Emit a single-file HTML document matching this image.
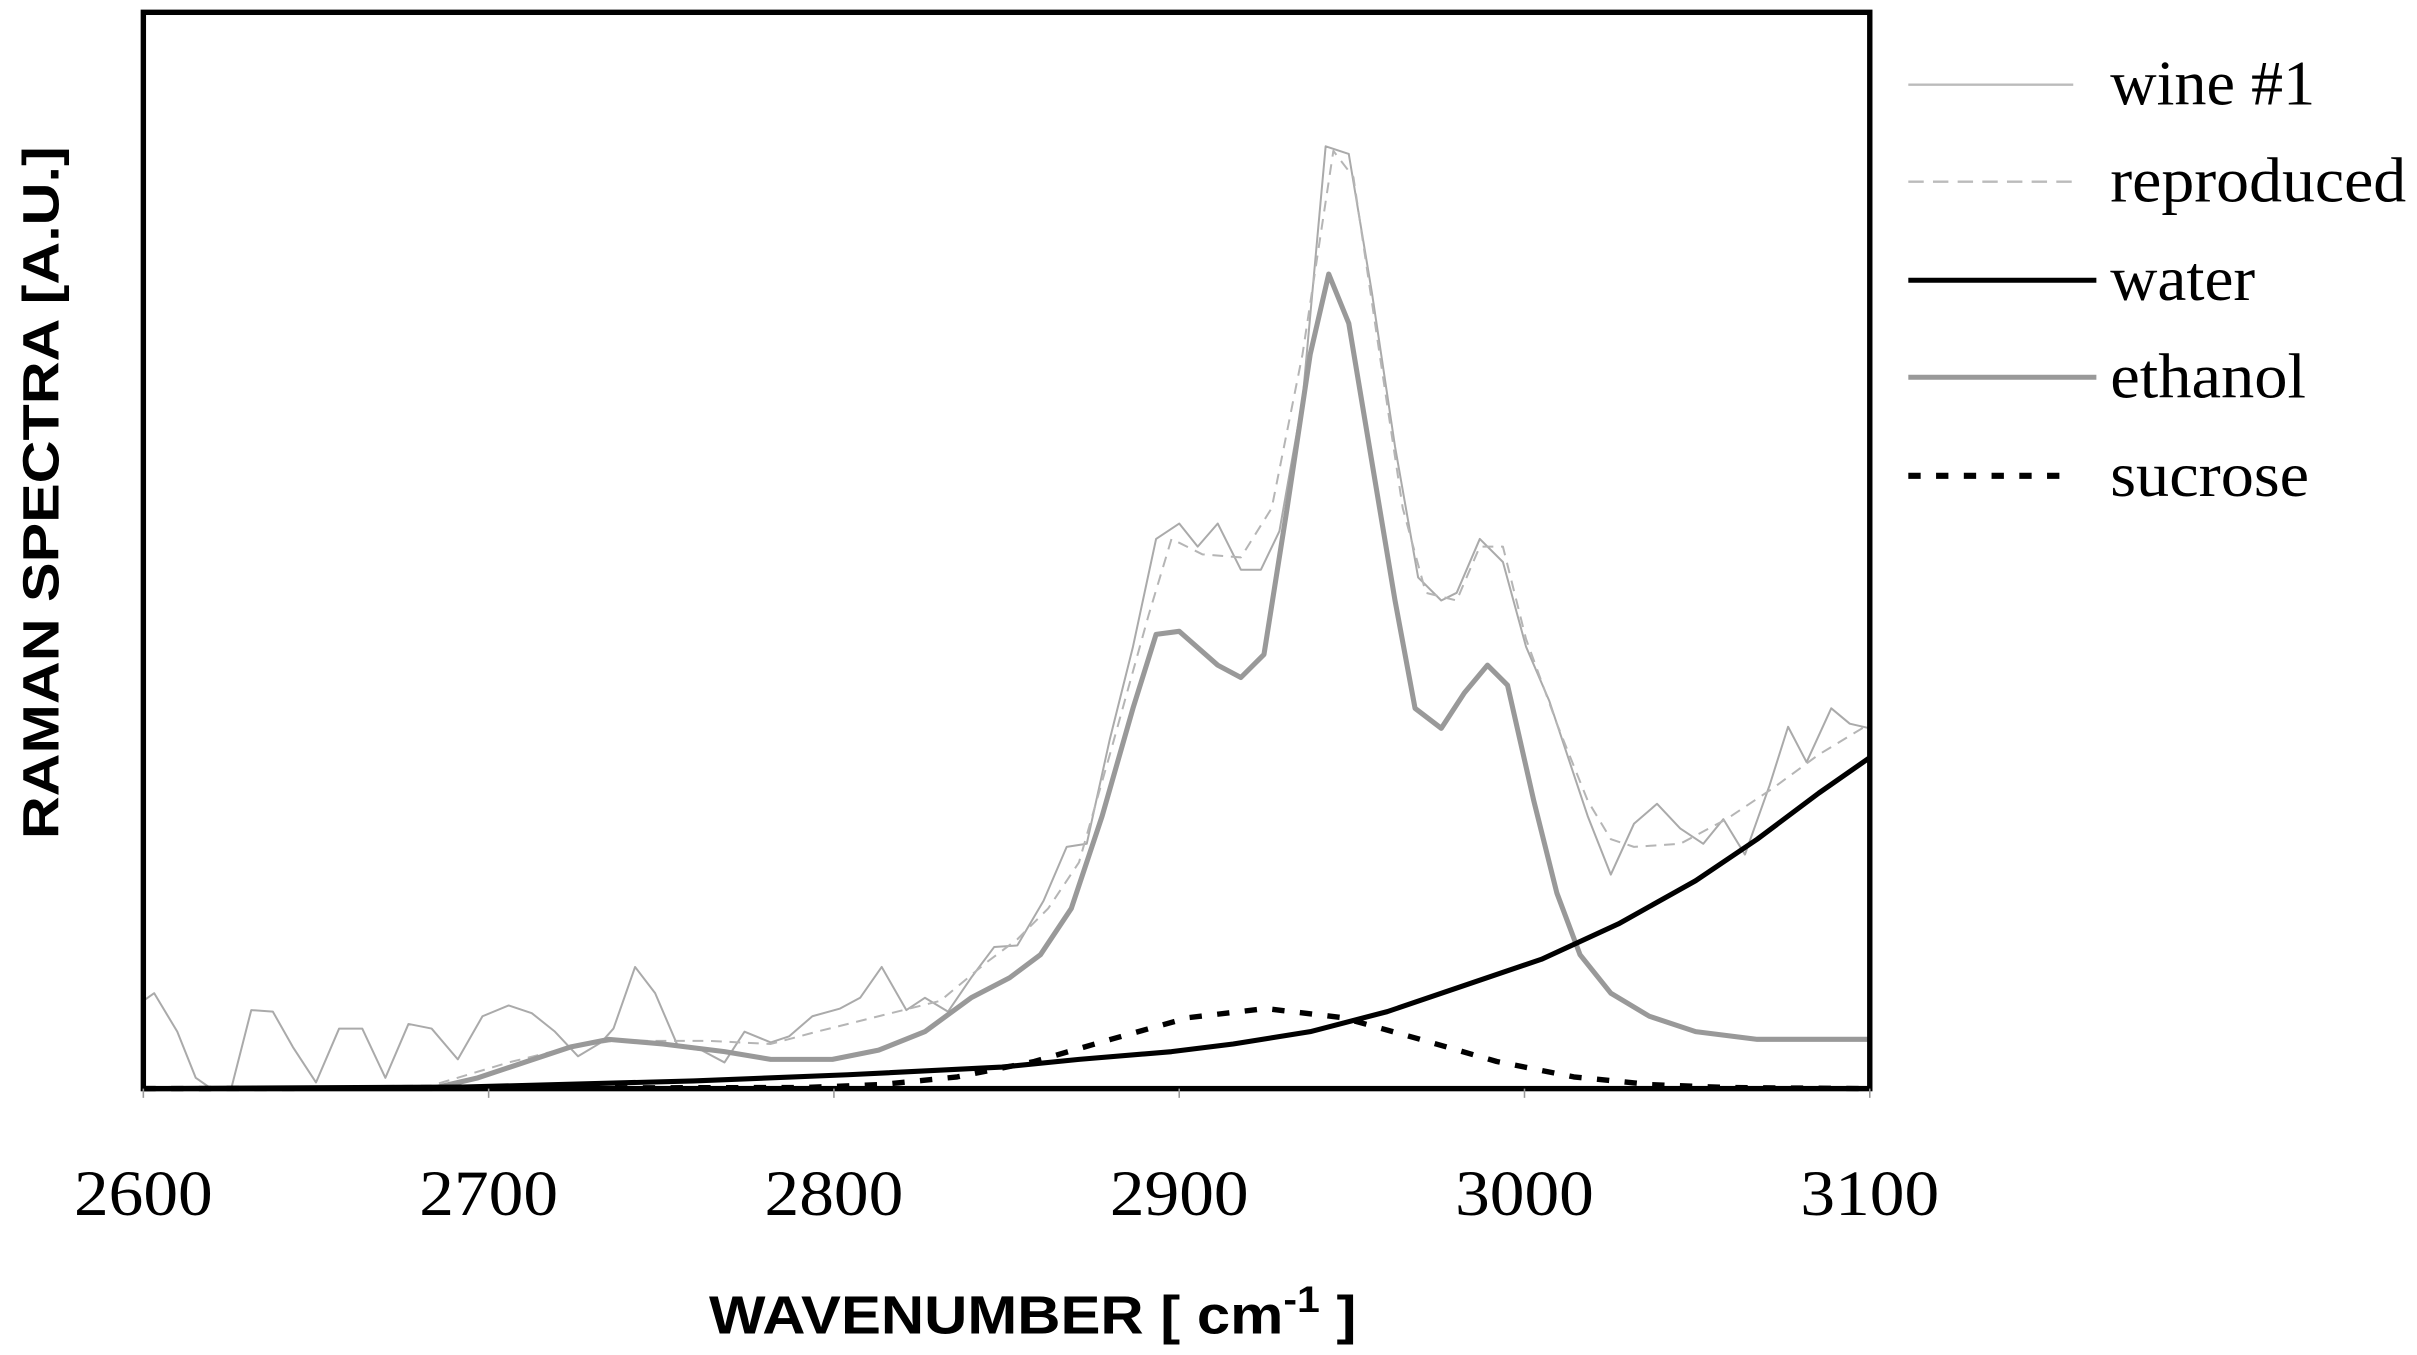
<!DOCTYPE html>
<html><head><meta charset="utf-8"><style>
html,body{margin:0;padding:0;background:#fff;}
svg{display:block;}
</style></head><body>
<svg width="2417" height="1355" viewBox="0 0 1568 880" preserveAspectRatio="none" xmlns="http://www.w3.org/2000/svg">
<rect x="0" y="0" width="1568" height="880" fill="#fff"/>
<g fill="none" stroke-linejoin="round">
<polyline stroke="#aaa" stroke-width="1.3" points="93,650 100,645 115,670 127,700 137,707 150,707 163,656 177,657 190,680 205,703 220,668 235,668 250,700 265,665 280,668 297,688 313,660 330,653 345,658 360,670 375,686 390,677 398,668 412,628 425,645 440,680 455,682 470,690 483,670 500,677 512,673 527,660 545,655 558,648 572,628 588,656 600,648 615,657 630,635 645,615 660,614 677,585 692,550 705,548 720,480 735,420 750,350 765,340 777,355 790,340 805,370 818,370 830,345 845,260 860,95 875,100 890,190 905,290 920,375 935,390 945,385 960,350 975,365 990,420 1005,455 1020,500 1030,530 1045,568 1060,535 1075,522 1090,538 1105,548 1118,532 1132,555 1148,510 1160,472 1172,495 1188,460 1200,470 1213,473"/>
<polyline stroke="#b5b5b5" stroke-width="1.3" stroke-dasharray="7,5" points="93,707 280,705 330,690 370,680 398,676 460,676 500,678 530,670 570,660 610,650 640,625 660,610 680,590 700,560 720,490 745,400 760,350 780,360 805,362 825,330 845,230 865,98 878,115 895,230 910,330 925,385 945,390 960,355 975,355 990,415 1010,470 1030,520 1045,545 1060,550 1090,548 1120,532 1150,512 1180,490 1213,470"/>
<polyline stroke="#999" stroke-width="3.3" points="93,707 280,707 310,700 340,690 370,680 395,675 430,678 470,683 500,688 540,688 570,682 600,670 630,648 655,635 675,620 695,590 715,530 735,460 750,412 765,410 790,432 805,440 820,425 835,330 850,230 862,178 875,210 890,300 905,390 918,460 935,473 950,450 965,432 978,445 995,520 1010,580 1025,620 1045,645 1070,660 1100,670 1140,675 1213,675"/>
<polyline stroke="#000" stroke-width="3.3" points="93,707 300,706 450,702 550,698 650,693 700,688 760,683 800,678 850,670 900,657 950,640 1000,623 1050,600 1100,572 1140,545 1180,515 1213,492"/>
<polyline stroke="#000" stroke-width="3.5" stroke-dasharray="8,10" points="93,707 521,706.3 571,704.4 621,699.4 671,689.4 721,674.9 771,660.9 821,655 871,660.9 921,674.9 971,689.4 1021,699.4 1071,704.4 1121,706.3 1213,707"/>
</g>
<rect x="93" y="8" width="1120" height="699" fill="none" stroke="#000" stroke-width="3.5"/>
<g stroke="#999" stroke-width="1">
<line x1="93" y1="707" x2="93" y2="713"/><line x1="317" y1="707" x2="317" y2="713"/><line x1="541" y1="707" x2="541" y2="713"/><line x1="765" y1="707" x2="765" y2="713"/><line x1="989" y1="707" x2="989" y2="713"/><line x1="1213" y1="707" x2="1213" y2="713"/>
</g>
<g font-family="Liberation Serif, serif" font-size="42" fill="#000" text-anchor="middle">
<text x="93" y="789" textLength="90" lengthAdjust="spacingAndGlyphs">2600</text><text x="317" y="789" textLength="90" lengthAdjust="spacingAndGlyphs">2700</text><text x="541" y="789" textLength="90" lengthAdjust="spacingAndGlyphs">2800</text><text x="765" y="789" textLength="90" lengthAdjust="spacingAndGlyphs">2900</text><text x="989" y="789" textLength="90" lengthAdjust="spacingAndGlyphs">3000</text><text x="1213" y="789" textLength="90" lengthAdjust="spacingAndGlyphs">3100</text>
</g>
<text x="670" y="866" font-family="Liberation Sans, sans-serif" font-weight="bold" font-size="35" text-anchor="middle" textLength="420" lengthAdjust="spacingAndGlyphs">WAVENUMBER [ cm<tspan dy="-14" font-size="24">-1</tspan><tspan dy="14"> ]</tspan></text>
<text transform="translate(38,320) rotate(-90)" font-family="Liberation Sans, sans-serif" font-weight="bold" font-size="33" text-anchor="middle" textLength="450" lengthAdjust="spacingAndGlyphs">RAMAN SPECTRA [A.U.]</text>
<g fill="none">
<line x1="1238" y1="55" x2="1345" y2="55" stroke="#bbb" stroke-width="1.5"/>
<line x1="1238" y1="118" x2="1345" y2="118" stroke="#bbb" stroke-width="1.5" stroke-dasharray="10,6"/>
<line x1="1238" y1="182" x2="1360" y2="182" stroke="#000" stroke-width="3.3"/>
<line x1="1238" y1="245" x2="1360" y2="245" stroke="#999" stroke-width="3.3"/>
<line x1="1238" y1="309" x2="1345" y2="309" stroke="#000" stroke-width="4" stroke-dasharray="8,10"/>
</g>
<g font-family="Liberation Serif, serif" font-size="41" fill="#000">
<text x="1369" y="68" textLength="133" lengthAdjust="spacingAndGlyphs">wine #1</text>
<text x="1369" y="131" textLength="192" lengthAdjust="spacingAndGlyphs">reproduced</text>
<text x="1369" y="195" textLength="94" lengthAdjust="spacingAndGlyphs">water</text>
<text x="1369" y="258" textLength="127" lengthAdjust="spacingAndGlyphs">ethanol</text>
<text x="1369" y="322" textLength="129" lengthAdjust="spacingAndGlyphs">sucrose</text>
</g>
</svg>
</body></html>
